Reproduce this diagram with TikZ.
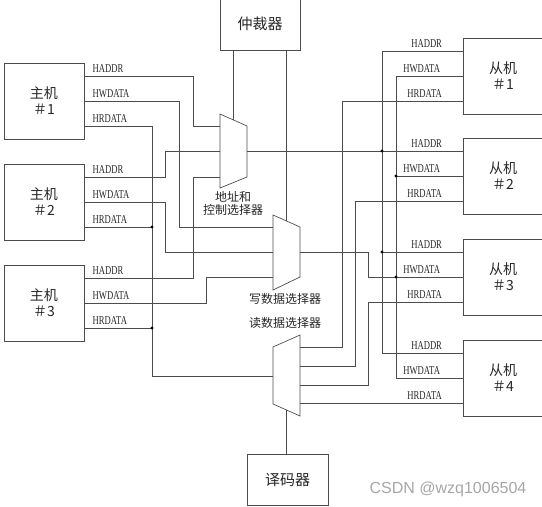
\documentclass[tikz,border=0pt]{standalone}
\usepackage{fontspec}
\newfontfamily\cjk{Noto Sans CJK SC}
\newfontfamily\sigfont[FakeStretch=0.72]{Liberation Serif}
\newfontfamily\wmfont{Liberation Sans}
\usetikzlibrary{calc}

\begin{document}
\begin{tikzpicture}[x=1pt,y=-1pt,black!70,line width=0.7pt,
    unit/.style={draw,rectangle,minimum width=80,minimum height=76,align=center,text=black!85,font=\cjk\fontsize{14}{16}\selectfont},
    sig/.style={text=black!85,inner sep=0pt,font=\sigfont\fontsize{12}{12}\selectfont},
    muxlabel/.style={text=black!85,align=center,font=\cjk\fontsize{12}{13}\selectfont},
    dot/.style={circle,fill=black,inner sep=0pt,minimum size=3.2pt}]
    \useasboundingbox (0,0) rectangle (542,507);

    % masters and slaves
    \node[unit] (m1) at (44,101) {主机\\＃1};
    \node[unit] (m2) at (44,202) {主机\\＃2};
    \node[unit] (m3) at (44,303) {主机\\＃3};
    \node[unit] (s1) at (503,76) {从机\\＃1};
    \node[unit] (s2) at (503,176) {从机\\＃2};
    \node[unit] (s3) at (503,277) {从机\\＃3};
    \node[unit] (s4) at (503,378) {从机\\＃4};
    \node[unit,minimum height=52,font=\cjk\fontsize{15}{15}\selectfont] (arb) at (260,24) {仲裁器};
    \node[unit,minimum width=81,minimum height=51,font=\cjk\fontsize{15}{15}\selectfont] (dec) at (287.5,479.5) {译码器};

    \foreach \i in {1,2,3} {
      \coordinate (m\i a) at ($(m\i.east)+(0,-25)$);
      \coordinate (m\i w) at (m\i.east);
      \coordinate (m\i r) at ($(m\i.east)+(0,25)$);
      \node[sig,anchor=south west] (m\i al) at ($(m\i a)+(8,-3)$) {HADDR};
      \node[sig,anchor=south west] (m\i wl) at ($(m\i w)+(8,-3)$) {HWDATA};
      \node[sig,anchor=south west] (m\i rl) at ($(m\i r)+(8,-3)$) {HRDATA};
    }
    \foreach \i in {1,...,4} {
      \coordinate (s\i a) at ($(s\i.west)+(0,-25)$);
      \coordinate (s\i w) at (s\i.west);
      \coordinate (s\i r) at ($(s\i.west)+(0,25)$);
      \node[sig,anchor=south] (s\i al) at ($(s\i a)+(-36,-3)$) {HADDR};
      \node[sig,anchor=south] (s\i wl) at ($(s\i w)+(-41,-3)$) {HWDATA};
      \node[sig,anchor=south] (s\i rl) at ($(s\i r)+(-38,-3)$) {HRDATA};
    }

    % selectors
    \draw (220,114) coordinate (amuxtl) -- (247,126) coordinate (amuxtr)
      -- (247,177) -- (220,188) -- cycle;
    \draw (273,215) coordinate (wmuxtl) -- (300,227) coordinate (wmuxtr)
      -- (300,277) -- (273,290) -- cycle;
    \draw (273,347) -- (300,335) -- (300,416) coordinate (rmuxbr)
      -- (273,404) coordinate (rmuxbl) -- cycle;
    \coordinate (atop) at ($(amuxtl)!0.5!(amuxtr)$);
    \coordinate (wtop) at ($(wmuxtl)!0.5!(wmuxtr)$);
    \coordinate (rbot) at ($(rmuxbl)!0.5!(rmuxbr)$);
    \coordinate (a1) at (220,126);
    \coordinate (a2) at (220,151);
    \coordinate (a3) at (220,177);
    \coordinate (aout) at (247,151);
    \coordinate (w1) at (273,227);
    \coordinate (w2) at (273,252);
    \coordinate (w3) at (273,277);
    \coordinate (wout) at (300,252);
    \coordinate (r1) at (300,347);
    \coordinate (r2) at (300,366);
    \coordinate (r3) at (300,385);
    \coordinate (r4) at (300,403);
    \coordinate (rout) at (273,376);

    \node[muxlabel] (alab) at (233,203) {地址和\\控制选择器};
    \node[muxlabel] (wlab) at (285,299) {写数据选择器};
    \node[muxlabel] (rlab) at (285,323) {读数据选择器};

    % arbiter and decoder
    \draw (atop |- arb.south) -- (atop);
    \draw (wtop |- arb.south) -- (wtop);
    \draw (rbot) -- (rbot |- dec.north);

    % masters to selectors
    \draw (m1a) -| (193,126) -- (a1);
    \draw (m2a) -| (165,151) -- (a2);
    \draw (m3a) -| (193,177) -- (a3);
    \draw (m1w) -| (179,227) -- (w1);
    \draw (m2w) -| (165,252) -- (w2);
    \draw (m3w) -| (206,277) -- (w3);
    \draw (m1r) -| (152,376) -- (rout);
    \draw (m2r) -- (152,227) node[dot] (d1) {};
    \draw (m3r) -- (152,328) node[dot] (d2) {};

    % selectors to slaves
    \draw (aout) -- (s2a);
    \draw (s1a) -| (382,353) -- (s4a);
    \draw (s3a) -- (382,252) node[dot] (d3) {};
    \node[dot] (d4) at (382,151) {};
    \draw (wout) -| (368,277) -- (s3w);
    \draw (s1w) -| (396,378) -- (s4w);
    \draw (s2w) -- (396,176) node[dot] (d5) {};
    \node[dot] (d6) at (396,277) {};
    \draw (s1r) -| (342,347) -- (r1);
    \draw (s2r) -| (355,366) -- (r2);
    \draw (s3r) -| (368,385) -- (r3);
    \draw (s4r) -- (r4);

    \node[text=black!35,font=\wmfont\fontsize{16}{16}\selectfont] (wm) at (448,489) {CSDN @wzq1006504};
  \end{tikzpicture}
\end{document}
